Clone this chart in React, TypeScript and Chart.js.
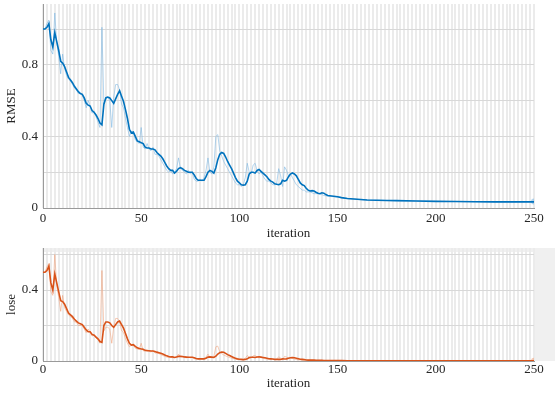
import React, { useEffect, useRef } from 'react';
import { Chart, registerables } from 'chart.js';
Chart.register(...registerables);

// iterations 0..145 densely, then a sparser tail
const headIters: number[] = Array.from({ length: 146 }, (_, i) => i);
const tailIters = [148, 150, 152, 155, 160, 165, 170, 175, 180, 190, 200, 210, 220, 230, 240, 250];
const iterations = [...headIters, ...tailIters];

const rmseSmooth = [
  1.00, 1.00, 1.01, 1.03, 0.94, 0.90, 0.98, 0.93, 0.88, 0.82,
  0.81, 0.79, 0.76, 0.73, 0.715, 0.70, 0.68, 0.665, 0.65, 0.64,
  0.635, 0.615, 0.585, 0.575, 0.57, 0.545, 0.535, 0.52, 0.50, 0.475,
  0.465, 0.58, 0.615, 0.62, 0.615, 0.60, 0.585, 0.61, 0.635, 0.655,
  0.625, 0.595, 0.55, 0.50, 0.44, 0.42, 0.425, 0.40, 0.375, 0.37,
  0.365, 0.36, 0.34, 0.335, 0.335, 0.33, 0.33, 0.325, 0.31, 0.30,
  0.29, 0.275, 0.255, 0.235, 0.22, 0.21, 0.21, 0.195, 0.205, 0.22,
  0.225, 0.22, 0.21, 0.205, 0.20, 0.20, 0.20, 0.185, 0.165, 0.155,
  0.155, 0.155, 0.155, 0.175, 0.20, 0.21, 0.205, 0.195, 0.225, 0.27,
  0.30, 0.31, 0.305, 0.285, 0.26, 0.24, 0.22, 0.195, 0.17, 0.15,
  0.14, 0.13, 0.128, 0.13, 0.15, 0.19, 0.20, 0.20, 0.195, 0.21,
  0.215, 0.205, 0.195, 0.185, 0.175, 0.16, 0.15, 0.145, 0.135, 0.133,
  0.13, 0.135, 0.155, 0.15, 0.155, 0.175, 0.19, 0.196, 0.19, 0.18,
  0.16, 0.14, 0.13, 0.125, 0.11, 0.10, 0.095, 0.097, 0.095, 0.088,
  0.082, 0.08, 0.085, 0.083, 0.075, 0.07,
  0.066, 0.063, 0.058, 0.053, 0.049, 0.045, 0.043, 0.042, 0.041, 0.039, 0.037, 0.036, 0.035, 0.034, 0.034, 0.034,
];

const rmseRaw = [
  1.00, 1.00, 1.03, 1.05, 0.88, 0.86, 1.09, 0.92, 0.85, 0.75,
  0.86, 0.78, 0.74, 0.72, 0.71, 0.69, 0.67, 0.66, 0.64, 0.64,
  0.63, 0.60, 0.56, 0.60, 0.57, 0.53, 0.54, 0.51, 0.48, 0.45,
  1.01, 0.58, 0.62, 0.62, 0.60, 0.45, 0.62, 0.69, 0.69, 0.66,
  0.58, 0.56, 0.50, 0.45, 0.40, 0.43, 0.42, 0.38, 0.37, 0.36,
  0.45, 0.34, 0.33, 0.36, 0.33, 0.32, 0.34, 0.30, 0.30, 0.29,
  0.27, 0.25, 0.23, 0.21, 0.20, 0.21, 0.19, 0.20, 0.22, 0.28,
  0.22, 0.21, 0.20, 0.19, 0.21, 0.19, 0.20, 0.16, 0.15, 0.15,
  0.16, 0.15, 0.17, 0.21, 0.28, 0.20, 0.19, 0.23, 0.40, 0.41,
  0.32, 0.29, 0.26, 0.24, 0.22, 0.20, 0.18, 0.16, 0.14, 0.13,
  0.13, 0.12, 0.13, 0.17, 0.25, 0.20, 0.19, 0.24, 0.25, 0.21,
  0.19, 0.20, 0.18, 0.16, 0.15, 0.15, 0.14, 0.13, 0.13, 0.14,
  0.22, 0.18, 0.12, 0.23, 0.21, 0.18, 0.19, 0.17, 0.15, 0.13,
  0.12, 0.11, 0.10, 0.10, 0.09, 0.09, 0.09, 0.085, 0.08, 0.08,
  0.08, 0.08, 0.075, 0.07, 0.068, 0.066,
  0.063, 0.061, 0.057, 0.052, 0.048, 0.045, 0.043, 0.042, 0.041, 0.039, 0.037, 0.036, 0.035, 0.034, 0.034, 0.036,
];

const lossSmooth = [
  0.50, 0.50, 0.51, 0.535, 0.44, 0.40, 0.49, 0.44, 0.39, 0.34,
  0.335, 0.32, 0.295, 0.27, 0.26, 0.25, 0.235, 0.225, 0.215, 0.21,
  0.205, 0.19, 0.175, 0.165, 0.165, 0.15, 0.145, 0.135, 0.125, 0.11,
  0.105, 0.20, 0.22, 0.22, 0.215, 0.20, 0.19, 0.205, 0.22, 0.225,
  0.205, 0.185, 0.155, 0.125, 0.10, 0.09, 0.092, 0.082, 0.074, 0.07,
  0.068, 0.066, 0.06, 0.058, 0.058, 0.056, 0.056, 0.054, 0.05, 0.047,
  0.043, 0.039, 0.034, 0.029, 0.025, 0.023, 0.023, 0.02, 0.022, 0.026,
  0.027, 0.025, 0.023, 0.022, 0.021, 0.021, 0.021, 0.018, 0.014, 0.012,
  0.012, 0.012, 0.012, 0.016, 0.022, 0.023, 0.022, 0.02, 0.027, 0.039,
  0.047, 0.051, 0.049, 0.043, 0.036, 0.031, 0.025, 0.02, 0.015, 0.012,
  0.01, 0.009, 0.008, 0.009, 0.012, 0.019, 0.021, 0.021, 0.02, 0.023,
  0.024, 0.022, 0.02, 0.018, 0.016, 0.013, 0.012, 0.011, 0.009, 0.009,
  0.009, 0.009, 0.012, 0.011, 0.012, 0.016, 0.018, 0.02, 0.018, 0.016,
  0.013, 0.01, 0.009, 0.008, 0.006, 0.005, 0.005, 0.005, 0.005, 0.004,
  0.004, 0.004, 0.004, 0.003, 0.003, 0.003,
  0.0025, 0.002, 0.002, 0.0015, 0.0013, 0.0012, 0.001, 0.001, 0.0009, 0.0008, 0.0008, 0.0007, 0.0007, 0.0006, 0.0006, 0.0006,
];

const lossRaw = [
  0.50, 0.50, 0.53, 0.55, 0.39, 0.37, 0.60, 0.42, 0.36, 0.28,
  0.37, 0.30, 0.28, 0.26, 0.25, 0.24, 0.22, 0.22, 0.20, 0.20,
  0.20, 0.18, 0.16, 0.18, 0.16, 0.14, 0.15, 0.13, 0.12, 0.10,
  0.51, 0.17, 0.19, 0.19, 0.18, 0.10, 0.19, 0.24, 0.24, 0.22,
  0.17, 0.16, 0.125, 0.10, 0.08, 0.09, 0.088, 0.072, 0.068, 0.065,
  0.10, 0.058, 0.055, 0.065, 0.054, 0.051, 0.058, 0.045, 0.045, 0.042,
  0.036, 0.031, 0.026, 0.022, 0.02, 0.022, 0.018, 0.02, 0.024, 0.039,
  0.024, 0.022, 0.02, 0.018, 0.022, 0.018, 0.02, 0.013, 0.011, 0.011,
  0.013, 0.011, 0.014, 0.022, 0.039, 0.02, 0.018, 0.026, 0.08, 0.084,
  0.051, 0.042, 0.034, 0.029, 0.024, 0.02, 0.016, 0.013, 0.01, 0.008,
  0.008, 0.007, 0.008, 0.014, 0.031, 0.02, 0.018, 0.029, 0.031, 0.022,
  0.018, 0.02, 0.016, 0.013, 0.011, 0.011, 0.01, 0.008, 0.008, 0.01,
  0.024, 0.016, 0.007, 0.026, 0.022, 0.016, 0.018, 0.014, 0.011, 0.008,
  0.007, 0.006, 0.005, 0.005, 0.004, 0.004, 0.004, 0.004, 0.003, 0.003,
  0.003, 0.003, 0.003, 0.002, 0.002, 0.002,
  0.0025, 0.002, 0.002, 0.0015, 0.0013, 0.0012, 0.001, 0.001, 0.0009, 0.0008, 0.0008, 0.0007, 0.0007, 0.0006, 0.0006, 0.0012,
];

const xTickLabels = [0, 50, 100, 150, 200, 250];
const X_MAX = 250;
const EPOCH_STEP = 2;

const FONT = '"Liberation Serif", "Times New Roman", serif';
const TEXT = '#262626';

type PanelCfg = {
  width: number;
  height: number;
  raw: number[];
  smooth: number[];
  rawColor: string;
  smoothColor: string;
  yMax: number;
  yGridStep: number;
  yLabelStep: number;
  yTitle: string;
  padTop: number;
  xAxisHeight: number;
  xTickPad: number;
  xTitlePadBottom: number;
  grayBg: boolean;
};

function toPoints(vals: number[]) {
  return iterations.map((it, i) => ({ x: it, y: vals[i] }));
}

function near(v: number, step: number) {
  return Math.abs(v / step - Math.round(v / step)) < 1e-6;
}

function Panel(p: PanelCfg) {
  const ref = useRef<HTMLCanvasElement | null>(null);
  useEffect(() => {
    if (!ref.current) return;
    const lastIdx = iterations.length - 1;
    const bgPlugin = {
      id: 'bgPanel',
      beforeDraw(chart: any) {
        if (!p.grayBg) return;
        const { ctx, chartArea, width } = chart;
        ctx.save();
        ctx.fillStyle = '#f0f0f0';
        ctx.fillRect(chartArea.left, chartArea.top, width - chartArea.left, chartArea.bottom - chartArea.top);
        ctx.fillStyle = '#ffffff';
        ctx.fillRect(chartArea.left, chartArea.top + 4, chartArea.right - chartArea.left, chartArea.bottom - chartArea.top - 4);
        ctx.restore();
      },
    };
    const chart = new Chart(ref.current, {
      type: 'line',
      data: {
        datasets: [
          {
            data: toPoints(p.smooth),
            borderColor: p.smoothColor,
            borderWidth: 1.6,
            pointRadius: 0,
            tension: 0,
            order: 0,
          },
          {
            data: toPoints(p.raw),
            borderColor: p.rawColor,
            borderWidth: 1,
            pointRadius: (c: any) => (c.dataIndex === lastIdx ? 3 : 0),
            pointBackgroundColor: p.rawColor,
            pointBorderWidth: 0,
            tension: 0,
            order: 1,
          },
        ],
      },
      options: {
        responsive: false,
        animation: false,
        maintainAspectRatio: false,
        layout: { padding: { left: 0, right: 21, top: p.padTop, bottom: 0 } },
        plugins: { legend: { display: false }, tooltip: { enabled: false } },
        scales: {
          x: {
            type: 'linear',
            min: 0,
            max: X_MAX,
            afterBuildTicks: (s: any) => {
              const t = [];
              for (let v = 0; v <= X_MAX; v += EPOCH_STEP) t.push({ value: v });
              s.ticks = t;
            },
            afterFit: (s: any) => {
              s.height = p.xAxisHeight;
              s.paddingLeft = 0;
            },
            ticks: {
              autoSkip: false,
              maxRotation: 0,
              padding: p.xTickPad,
              color: TEXT,
              font: { family: FONT, size: 13 },
              callback: (v: any) => (xTickLabels.includes(Number(v)) ? String(v) : ''),
            },
            grid: { color: '#ebebeb', lineWidth: 2, drawTicks: false },
            border: { color: '#9a9a9a', width: 1 },
            title: {
              display: true,
              text: 'iteration',
              color: TEXT,
              font: { family: FONT, size: 13 },
              padding: { top: 0, bottom: p.xTitlePadBottom },
            },
          },
          y: {
            type: 'linear',
            min: 0,
            max: p.yMax,
            afterBuildTicks: (s: any) => {
              const t = [];
              for (let k = 0; k * p.yGridStep <= p.yMax + 1e-9; k++) t.push({ value: Math.round(k * p.yGridStep * 1000) / 1000 });
              s.ticks = t;
            },
            afterFit: (s: any) => {
              s.width = 43;
              s.paddingTop = 0;
              s.paddingBottom = 0;
            },
            ticks: {
              autoSkip: false,
              padding: 5,
              color: TEXT,
              font: { family: FONT, size: 13 },
              callback: (v: any) => (near(Number(v), p.yLabelStep) ? String(Math.round(Number(v) * 10) / 10) : ''),
            },
            grid: { color: '#d8d8d8', lineWidth: 1, drawTicks: false },
            border: { color: '#9a9a9a', width: 1 },
            title: {
              display: true,
              text: p.yTitle,
              color: TEXT,
              font: { family: FONT, size: 13 },
              padding: { top: 4, bottom: 0 },
            },
          },
        },
      },
      plugins: [bgPlugin],
    } as any);
    return () => chart.destroy();
  }, []);
  return <canvas ref={ref} width={p.width} height={p.height} style={{ display: 'block', width: p.width, height: p.height }} />;
}

export default function App() {
  return (
    <div style={{ position: 'absolute', left: 0, top: 0, width: 555, height: 396, background: '#fff' }}>
      <div style={{ position: 'absolute', left: 0, top: 0 }}>
        <Panel
          width={555}
          height={242}
          raw={rmseRaw}
          smooth={rmseSmooth}
          rawColor="rgba(120,180,225,0.55)"
          smoothColor="#0072BD"
          yMax={1.14}
          yGridStep={0.2}
          yLabelStep={0.4}
          yTitle="RMSE"
          padTop={3}
          xAxisHeight={34}
          xTickPad={3}
          xTitlePadBottom={1}
          grayBg={false}
        />
      </div>
      <div style={{ position: 'absolute', left: 0, top: 242 }}>
        <Panel
          width={555}
          height={154}
          raw={lossRaw}
          smooth={lossSmooth}
          rawColor="rgba(240,160,120,0.55)"
          smoothColor="#D95319"
          yMax={0.637}
          yGridStep={0.2}
          yLabelStep={0.4}
          yTitle="lose"
          padTop={6}
          xAxisHeight={35}
          xTickPad={1}
          xTitlePadBottom={5}
          grayBg={true}
        />
      </div>
    </div>
  );
}
